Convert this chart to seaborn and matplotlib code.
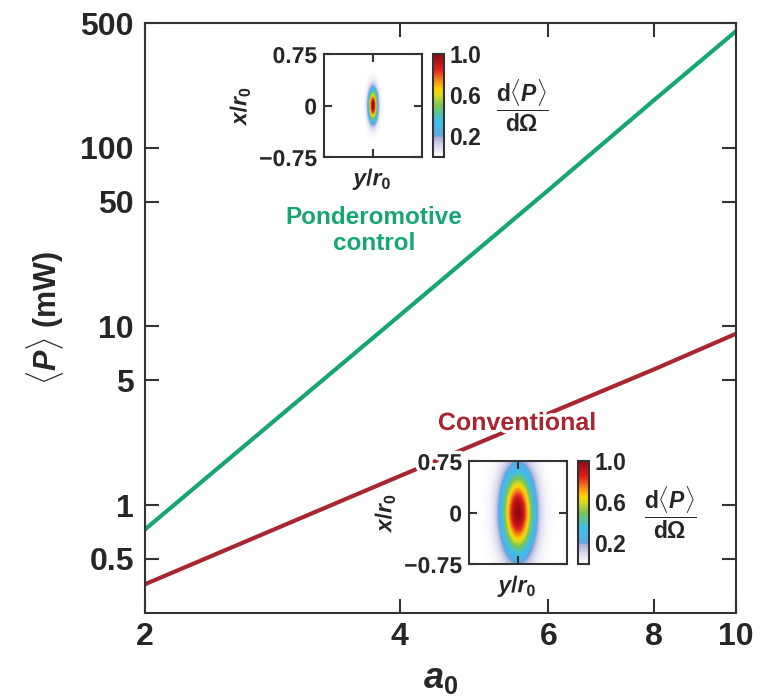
import numpy as np
import pandas as pd
import matplotlib
matplotlib.use('Agg')
import matplotlib.pyplot as plt
import matplotlib.patheffects as pe
from matplotlib.colors import LinearSegmentedColormap
import seaborn as sns

# values
a0 = [2, 4, 6, 8, 10]
p_ponderomotive = [0.73, 11.5, 58, 185, 450]
p_conventional = [0.36, 1.45, 3.25, 5.75, 9.1]
x_ticks = [2, 4, 6, 8, 10]
y_ticks = [0.5, 1, 5, 10, 50, 100, 500]
y_ticklabels = ['0.5', '1', '5', '10', '50', '100', '500']
inset_ticks = [-0.75, 0, 0.75]
inset_ticklabels = ['\u22120.75', '0', '0.75']
cbar_ticks = [0.2, 0.6, 1.0]
# beam-spot widths (in r0) of the two angular maps: (horizontal, vertical)
spot_ponderomotive = (0.048, 0.16)
spot_conventional = (0.17, 0.42)

green = '#17a673'
red = '#a8262f'
dark = '#333333'

sns.set_theme(style='ticks')
plt.rcParams['font.family'] = ['Liberation Sans', 'DejaVu Sans']
plt.rcParams['font.weight'] = 'bold'
plt.rcParams['axes.labelweight'] = 'bold'
plt.rcParams['mathtext.fontset'] = 'custom'
plt.rcParams['mathtext.rm'] = 'Liberation Sans:bold'
plt.rcParams['mathtext.it'] = 'Liberation Sans:italic:bold'
plt.rcParams['mathtext.bf'] = 'Liberation Sans:bold'

df = pd.DataFrame({
    'a0': a0 + a0,
    'P': p_ponderomotive + p_conventional,
    'case': ['Ponderomotive control'] * len(a0) + ['Conventional'] * len(a0),
})

fig = plt.figure(figsize=(7.79, 6.97), dpi=100)
ax = fig.add_axes([0.1861, 0.1212, 0.7587, 0.8458])
sns.lineplot(data=df, x='a0', y='P', hue='case',
             palette={'Ponderomotive control': green, 'Conventional': red},
             linewidth=3, legend=False, ax=ax)
ax.set_xscale('log')
ax.set_yscale('log')
ax.set_xlim(2, 10)
ax.set_ylim(0.25, 500)
ax.set_xticks(x_ticks)
ax.set_xticklabels([str(t) for t in x_ticks])
ax.set_yticks(y_ticks)
ax.set_yticklabels(y_ticklabels)
ax.minorticks_off()
ax.tick_params(direction='in', length=10, width=1.5, color=dark,
               top=True, right=True, labelsize=23)
ax.tick_params(axis='x', pad=7)
ax.tick_params(axis='y', pad=8)
for s in ax.spines.values():
    s.set_visible(True)
    s.set_linewidth(1.5)
    s.set_color(dark)
ax.set_xlabel(r'$a_{0}$', fontsize=26, labelpad=6)
ax.set_ylabel(r'$\langle P\rangle$ (mW)', fontsize=22, fontweight='bold',
              labelpad=10)

halo = [pe.withStroke(linewidth=5, foreground='white')]
fig.text(374 / 779, 1 - 230.5 / 697, 'Ponderomotive\ncontrol', color=green,
         fontsize=17.5, fontweight='bold', ha='center', va='center',
         linespacing=1.15)
fig.text(517 / 779, 1 - 423 / 697, 'Conventional', color=red,
         fontsize=18, fontweight='bold', ha='center', va='center',
         path_effects=halo)

cmap = LinearSegmentedColormap.from_list('spot', [
    (0.0, '#ffffff'), (0.1, '#dcdcf0'), (0.19, '#a9aedb'),
    (0.2, '#5fa8e0'), (0.35, '#3cc0ea'), (0.5, '#7cc552'),
    (0.6, '#d6dc20'), (0.66, '#ffd200'), (0.75, '#f58220'),
    (0.85, '#e21b1b'), (1.0, '#8c0a12')])

grid = np.linspace(-0.75, 0.75, 301)
yy, xx = np.meshgrid(grid, grid)


def add_inset(pos, spot, label_px):
    left, top = pos
    iax = fig.add_axes([left / 779, 1 - (top + 103) / 697, 98 / 779, 103 / 697])
    sx, sy = spot
    img = np.exp(-(yy ** 2) / (2 * sx ** 2) - (xx ** 2) / (2 * sy ** 2))
    im = iax.imshow(img, extent=[-0.75, 0.75, -0.75, 0.75], origin='lower',
                    cmap=cmap, vmin=0, vmax=1, aspect='auto',
                    interpolation='bilinear')
    iax.set_facecolor('white')
    iax.set_xticks([0])
    iax.set_xticklabels([])
    iax.set_yticks(inset_ticks)
    iax.set_yticklabels(inset_ticklabels)
    iax.tick_params(direction='in', length=6, width=1.5, color=dark,
                    top=True, right=True, labelsize=16.5, pad=5)
    for t in iax.get_yticklabels():
        t.set_path_effects(halo)
    for s in iax.spines.values():
        s.set_visible(True)
        s.set_linewidth(1.5)
        s.set_color(dark)
    iax.set_xlabel(r'$y/r_{0}$', fontsize=16.5, labelpad=1)
    iax.set_ylabel(r'$x/r_{0}$', fontsize=16.5, labelpad=5)
    iax.xaxis.label.set_path_effects(halo)
    iax.yaxis.label.set_path_effects(halo)

    cax = fig.add_axes([(left + 109) / 779, 1 - (top + 103) / 697,
                        11 / 779, 103 / 697])
    cb = fig.colorbar(im, cax=cax, ticks=cbar_ticks)
    cb.ax.set_yticklabels(['0.2', '0.6', '1.0'])
    cb.ax.tick_params(direction='in', length=8, width=1.5, color=dark,
                      labelsize=16.5, pad=4)
    cb.outline.set_linewidth(1.5)
    cb.outline.set_edgecolor(dark)
    fig.text(label_px[0] / 779, 1 - label_px[1] / 697,
             r'$\dfrac{\mathrm{d}\langle P\rangle}{\mathrm{d}\Omega}$',
             fontsize=16.5, ha='center', va='center')


add_inset((324, 54), spot_ponderomotive, (522, 106))
add_inset((469, 461), spot_conventional, (670, 513))

fig.savefig('out.png', dpi=100, facecolor='white')
